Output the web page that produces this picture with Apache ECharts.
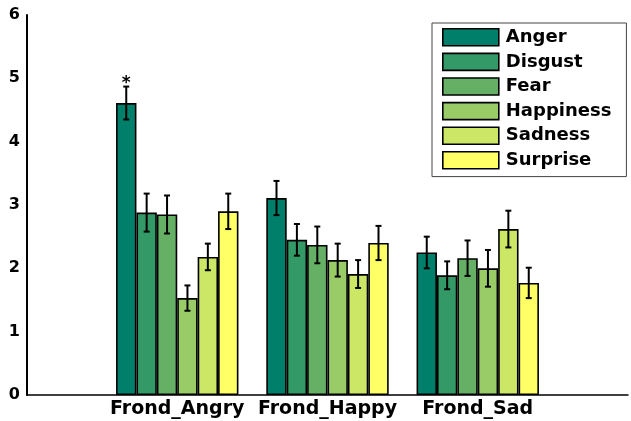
<!DOCTYPE html>
<html>
<head>
<meta charset="utf-8">
<script src="https://cdn.jsdelivr.net/npm/echarts@6/dist/echarts.min.js"></script>
<style>
  html, body { margin: 0; padding: 0; background: #fff; }
  #chart { width: 631px; height: 421px; }
</style>
</head>
<body>
<div id="chart"></div>
<script>
const categories = ['Frond_Angry', 'Frond_Happy', 'Frond_Sad'];
const emotions = ['Anger', 'Disgust', 'Fear', 'Happiness', 'Sadness', 'Surprise'];
const colors = ['#00806a', '#339966', '#66b066', '#99cc66', '#cce666', '#ffff66'];

// mean per emotion, in order Angry / Happy / Sad
const anger = [4.61, 3.11, 2.25];
const disgust = [2.88, 2.45, 1.89];
const fear = [2.85, 2.37, 2.16];
const happiness = [1.53, 2.13, 2.00];
const sadness = [2.18, 1.91, 2.62];
const surprise = [2.90, 2.40, 1.77];

// error (half length of bar)
const angerErr = [0.26, 0.27, 0.25];
const disgustErr = [0.30, 0.25, 0.22];
const fearErr = [0.30, 0.29, 0.28];
const happinessErr = [0.20, 0.26, 0.29];
const sadnessErr = [0.21, 0.22, 0.29];
const surpriseErr = [0.28, 0.27, 0.24];

const stars = [['*', '', ''], ['', '', ''], ['', '', ''], ['', '', ''], ['', '', ''], ['', '', '']];

const yTicks = [0, 1, 2, 3, 4, 5, 6];

const means = [anger, disgust, fear, happiness, sadness, surprise];
const errs = [angerErr, disgustErr, fearErr, happinessErr, sadnessErr, surpriseErr];

// pad with an empty slot each side so the groups sit at 1, 2, 3 of a 0..4 axis
const axisData = [''].concat(categories, ['']);
const pad = arr => [null].concat(arr, [null]);

const BAR_W = 20.4;
const chart = echarts.init(document.getElementById('chart'));

const barSeries = emotions.map((name, i) => ({
  name,
  type: 'bar',
  data: pad(means[i]),
  barWidth: BAR_W,
  barGap: 0,
  itemStyle: { color: colors[i], borderColor: '#000', borderWidth: 1.6 },
  z: 2
}));

const errSeries = emotions.map((name, i) => ({
  type: 'custom',
  name: name + '_err',
  data: means[i].map((v, k) => [k + 1, v, errs[i][k]]),
  z: 5,
  silent: true,
  renderItem(params, api) {
    const x0 = api.value(0);
    const v = api.value(1);
    const e = api.value(2);
    const off = (i - 2.5) * BAR_W;
    const top = api.coord([x0, v + e]);
    const bot = api.coord([x0, v - e]);
    const x = top[0] + off;
    const cap = 3;
    const style = { stroke: '#000', lineWidth: 2 };
    const children = [
      { type: 'line', shape: { x1: x, y1: top[1], x2: x, y2: bot[1] }, style },
      { type: 'line', shape: { x1: x - cap, y1: top[1], x2: x + cap, y2: top[1] }, style },
      { type: 'line', shape: { x1: x - cap, y1: bot[1], x2: x + cap, y2: bot[1] }, style }
    ];
    const s = stars[i][x0 - 1];
    if (s) {
      children.push({
        type: 'text',
        style: {
          text: s, x: x, y: top[1] - 3, align: 'center', verticalAlign: 'middle',
          font: 'bold 17px "DejaVu Sans"', fill: '#000'
        }
      });
    }
    return { type: 'group', children };
  }
}));

chart.setOption({
  animation: false,
  backgroundColor: '#fff',
  grid: { left: 27, top: 15, width: 608, height: 380 },
  legend: {
    data: emotions,
    orient: 'vertical',
    left: 432,
    top: 23,
    padding: [5, 15, 7, 10],
    icon: 'rect',
    itemWidth: 56,
    itemHeight: 17,
    itemGap: 6,
    borderColor: '#444',
    borderWidth: 1,
    borderRadius: 0,
    itemStyle: { borderColor: '#000', borderWidth: 1.6 },
    textStyle: {
      fontFamily: 'DejaVu Sans', fontWeight: 'bold', fontSize: 18, lineHeight: 17,
      color: '#000', padding: [0, 0, 0, 2]
    }
  },
  xAxis: {
    type: 'category',
    data: axisData,
    boundaryGap: false,
    axisLine: { lineStyle: { color: '#000', width: 1.5 } },
    axisTick: { show: false },
    axisLabel: {
      interval: 0, margin: 5, color: '#000',
      fontFamily: 'DejaVu Sans', fontWeight: 'bold', fontSize: 19
    }
  },
  yAxis: {
    type: 'value',
    min: yTicks[0],
    max: yTicks[yTicks.length - 1],
    interval: 1,
    splitLine: { show: false },
    axisLine: { show: true, lineStyle: { color: '#000', width: 2 } },
    axisTick: { show: false },
    axisLabel: {
      margin: 7, color: '#000',
      fontFamily: 'DejaVu Sans', fontWeight: 'bold', fontSize: 16
    }
  },
  series: barSeries.concat(errSeries)
});
</script>
</body>
</html>
